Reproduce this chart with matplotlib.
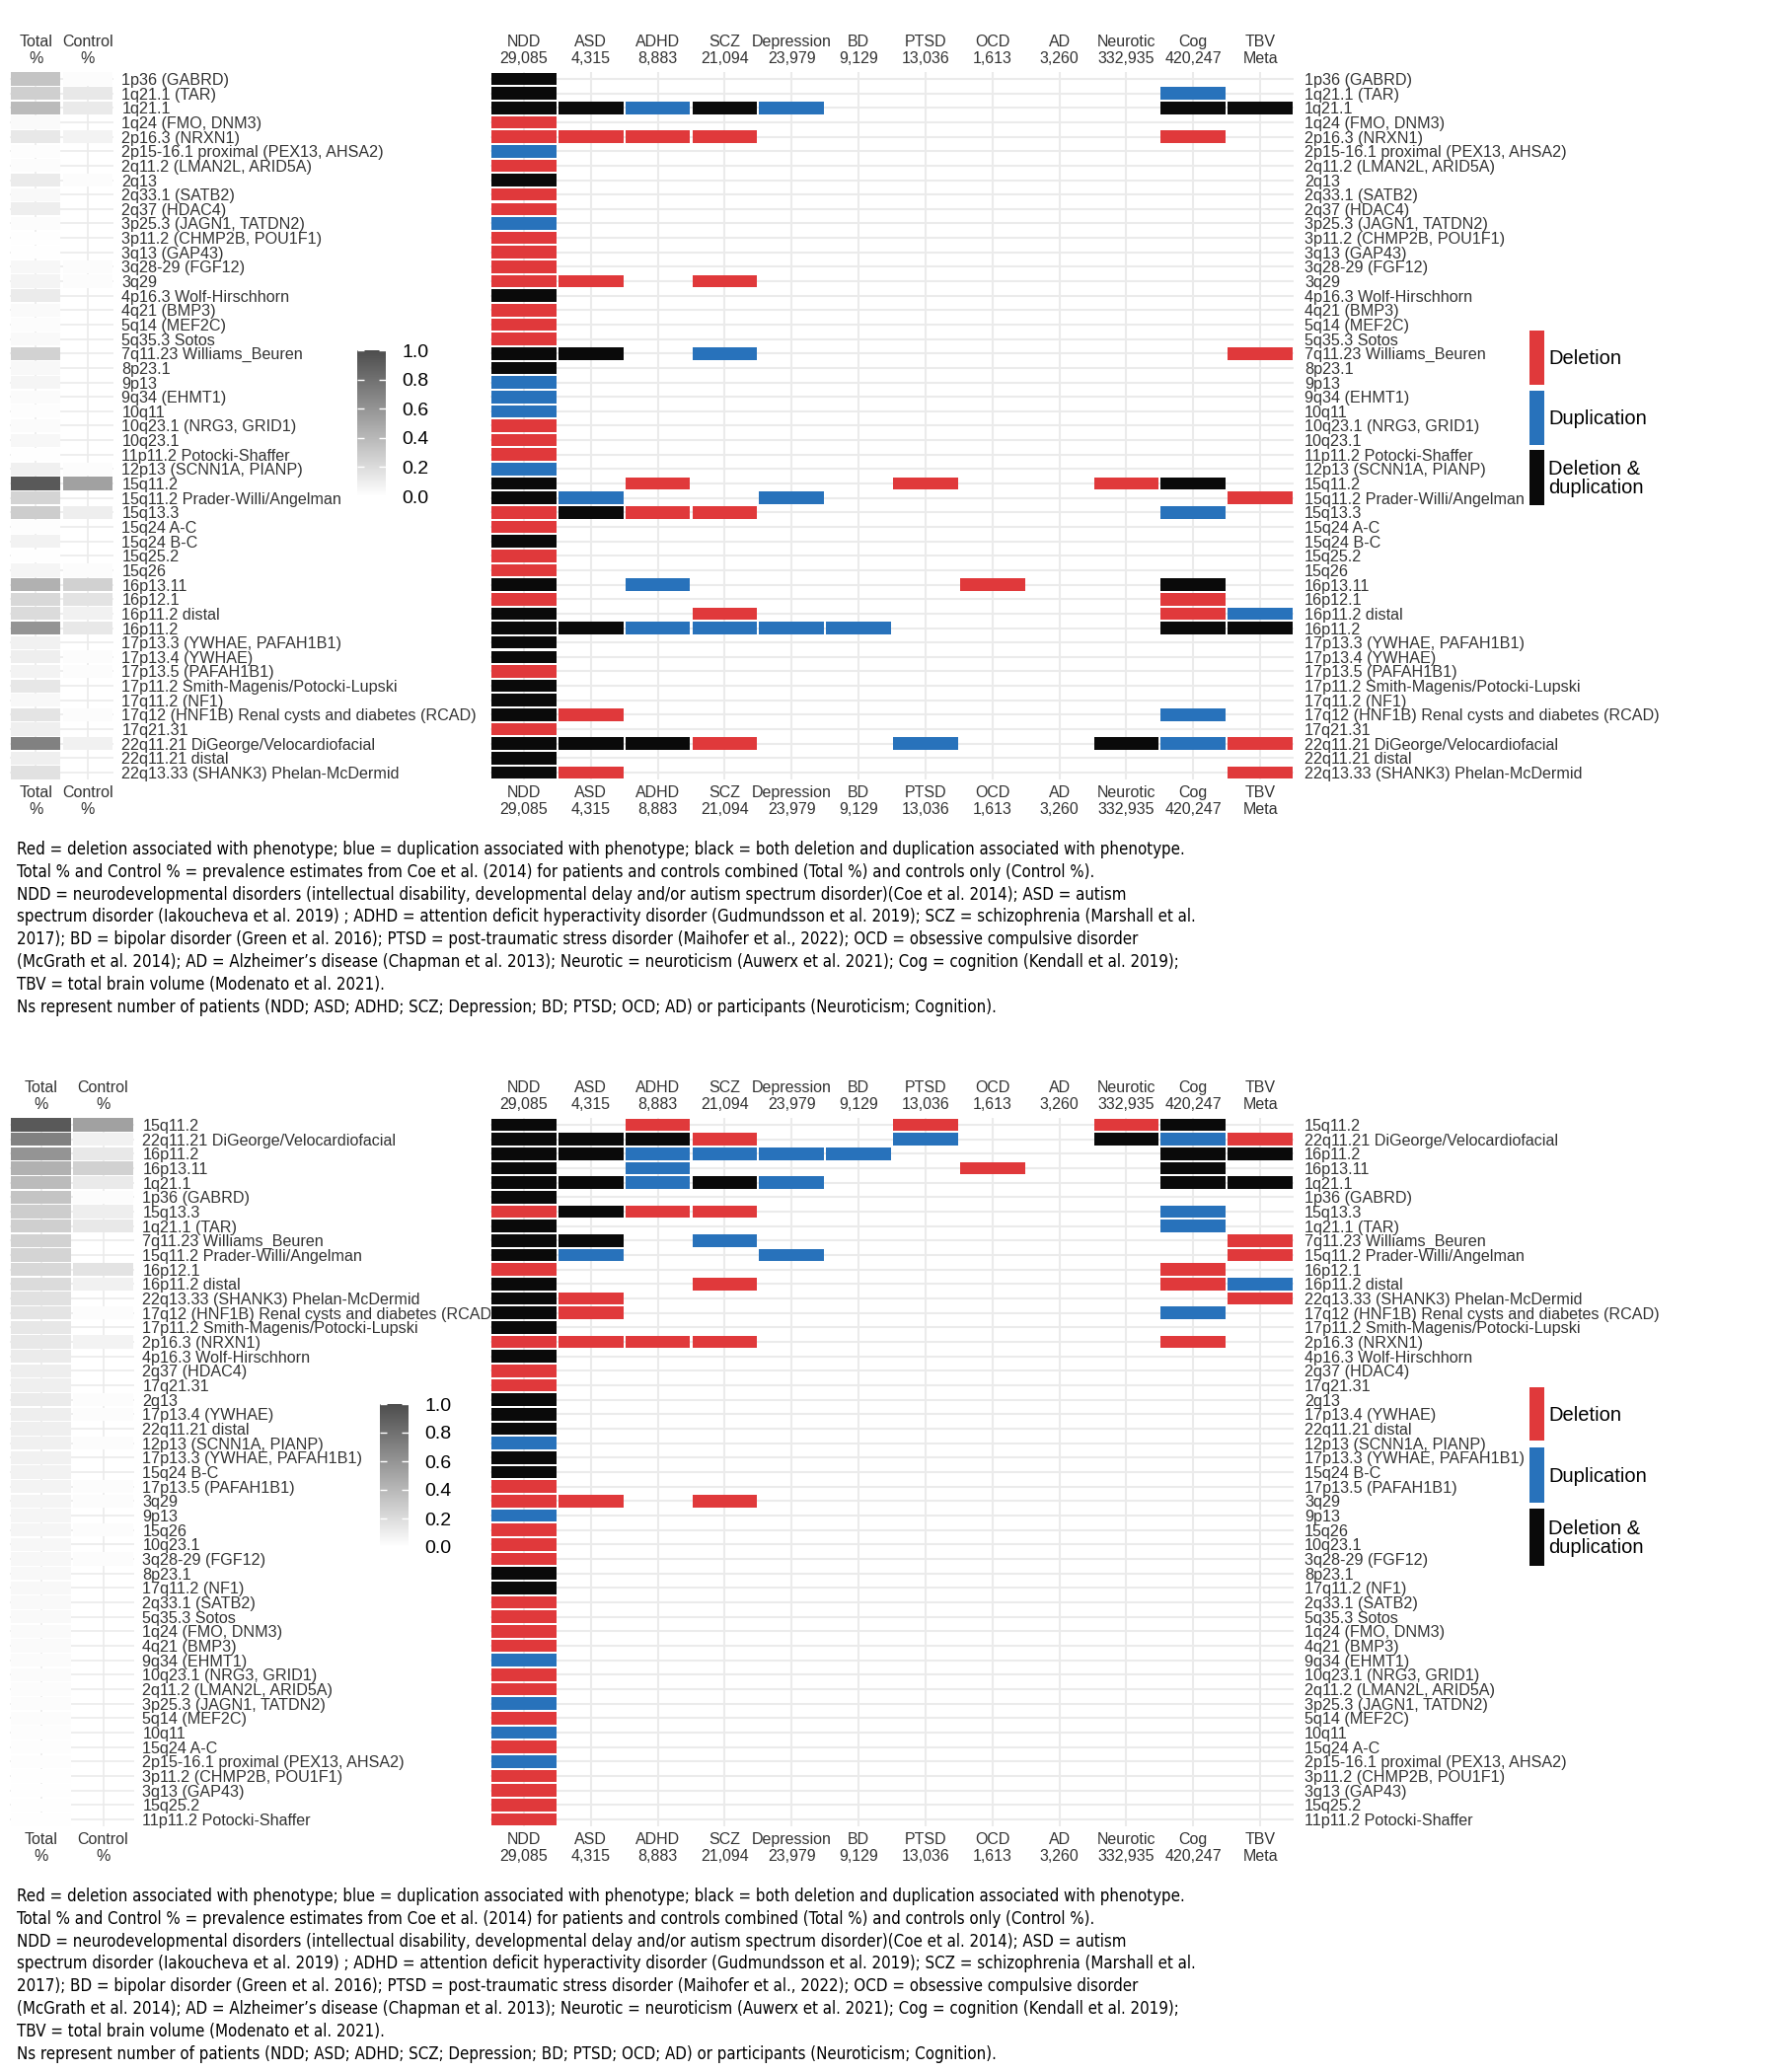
import numpy as np
import matplotlib.pyplot as plt
from matplotlib.colors import LinearSegmentedColormap, Normalize
from matplotlib.cm import ScalarMappable
from matplotlib.font_manager import FontProperties, findfont

## data

cnvs = ['1p36 (GABRD)', '1q21.1 (TAR)', '1q21.1', '1q24 (FMO, DNM3)', '2p16.3 (NRXN1)',
        '2p15-16.1 proximal (PEX13, AHSA2)', '2q11.2 (LMAN2L, ARID5A)', '2q13', '2q33.1 (SATB2)',
        '2q37 (HDAC4)', '3p25.3 (JAGN1, TATDN2)', '3p11.2 (CHMP2B, POU1F1)', '3q13 (GAP43)',
        '3q28-29 (FGF12)', '3q29', '4p16.3 Wolf-Hirschhorn', '4q21 (BMP3)', '5q14 (MEF2C)',
        '5q35.3 Sotos', '7q11.23 Williams_Beuren', '8p23.1', '9p13', '9q34 (EHMT1)', '10q11',
        '10q23.1 (NRG3, GRID1)', '10q23.1', '11p11.2 Potocki-Shaffer', '12p13 (SCNN1A, PIANP)',
        '15q11.2', '15q11.2 Prader-Willi/Angelman', '15q13.3', '15q24 A-C', '15q24 B-C',
        '15q25.2', '15q26', '16p13.11', '16p12.1', '16p11.2 distal', '16p11.2',
        '17p13.3 (YWHAE, PAFAH1B1)', '17p13.4 (YWHAE)', '17p13.5 (PAFAH1B1)',
        '17p11.2 Smith-Magenis/Potocki-Lupski', '17q11.2 (NF1)',
        '17q12 (HNF1B) Renal cysts and diabetes (RCAD)', '17q21.31',
        '22q11.21 DiGeorge/Velocardiofacial', '22q11.21 distal',
        '22q13.33 (SHANK3) Phelan-McDermid']

# prevalence (colour scale 0-1), nan = no tile
total_pct = [0.33, 0.27, 0.38, 0.03, 0.13, 0.015, 0.02, 0.11, 0.035, 0.10, 0.02, 0.01, 0.01,
             0.045, 0.065, 0.11, 0.03, 0.02, 0.035, 0.25, 0.04, 0.06, 0.025, 0.015, 0.025,
             0.05, 0.01, 0.085, 0.93, 0.24, 0.28, 0.015, 0.075, 0.01, 0.055, 0.44, 0.22,
             0.20, 0.60, 0.08, 0.10, 0.07, 0.14, 0.04, 0.15, 0.09, 0.71, 0.09, 0.17]
control_pct = [0.02, 0.13, 0.12, np.nan, 0.07, np.nan, np.nan, 0.02, np.nan, np.nan, np.nan,
               np.nan, np.nan, 0.02, 0.02, np.nan, np.nan, np.nan, np.nan, np.nan, np.nan,
               np.nan, np.nan, np.nan, np.nan, np.nan, np.nan, 0.02, 0.53, np.nan, 0.10,
               np.nan, np.nan, np.nan, 0.02, 0.26, 0.16, 0.08, 0.13, np.nan, 0.02, 0.02,
               np.nan, np.nan, 0.02, np.nan, 0.08, np.nan, np.nan]

phenotypes = ['NDD', 'ASD', 'ADHD', 'SCZ', 'Depression', 'BD', 'PTSD', 'OCD', 'AD',
              'Neurotic', 'Cog', 'TBV']
sample_n = ['29,085', '4,315', '8,883', '21,094', '23,979', '9,129', '13,036', '1,613',
            '3,260', '332,935', '420,247', 'Meta']

# one code per phenotype: D deletion, U duplication, B both, . none
assoc = ['B...........', 'B.........U.', 'BBUBU.....BB', 'D...........', 'DDDD......D.',
         'U...........', 'D...........', 'B...........', 'D...........', 'D...........',
         'U...........', 'D...........', 'D...........', 'D...........', 'DD.D........',
         'B...........', 'D...........', 'D...........', 'D...........', 'BB.U.......D',
         'B...........', 'U...........', 'U...........', 'U...........', 'D...........',
         'D...........', 'D...........', 'U...........', 'B.D...D..DB.', 'BU..U......D',
         'DBDD......U.', 'D...........', 'B...........', 'D...........', 'D...........',
         'B.U....D..B.', 'D.........D.', 'B..D......DU', 'BBUUUU....BB', 'B...........',
         'B...........', 'D...........', 'B...........', 'B...........', 'BD........U.',
         'D...........', 'BBBD..U..BUD', 'B...........', 'BD.........D']

# second panel: ordered by total prevalence
order_total = ['15q11.2', '22q11.21 DiGeorge/Velocardiofacial', '16p11.2', '16p13.11', '1q21.1',
               '1p36 (GABRD)', '15q13.3', '1q21.1 (TAR)', '7q11.23 Williams_Beuren',
               '15q11.2 Prader-Willi/Angelman', '16p12.1', '16p11.2 distal',
               '22q13.33 (SHANK3) Phelan-McDermid', '17q12 (HNF1B) Renal cysts and diabetes (RCAD)',
               '17p11.2 Smith-Magenis/Potocki-Lupski', '2p16.3 (NRXN1)', '4p16.3 Wolf-Hirschhorn',
               '2q37 (HDAC4)', '17q21.31', '2q13', '17p13.4 (YWHAE)', '22q11.21 distal',
               '12p13 (SCNN1A, PIANP)', '17p13.3 (YWHAE, PAFAH1B1)', '15q24 B-C',
               '17p13.5 (PAFAH1B1)', '3q29', '9p13', '15q26', '10q23.1', '3q28-29 (FGF12)',
               '8p23.1', '17q11.2 (NF1)', '2q33.1 (SATB2)', '5q35.3 Sotos', '1q24 (FMO, DNM3)',
               '4q21 (BMP3)', '9q34 (EHMT1)', '10q23.1 (NRG3, GRID1)', '2q11.2 (LMAN2L, ARID5A)',
               '3p25.3 (JAGN1, TATDN2)', '5q14 (MEF2C)', '10q11', '15q24 A-C',
               '2p15-16.1 proximal (PEX13, AHSA2)', '3p11.2 (CHMP2B, POU1F1)', '3q13 (GAP43)',
               '15q25.2', '11p11.2 Potocki-Shaffer']

legend_labels = ['Deletion', 'Duplication', 'Deletion &\nduplication']

caption = ["Red = deletion associated with phenotype; blue = duplication associated with phenotype; black = both deletion and duplication associated with phenotype.",
           "Total % and Control % = prevalence estimates from Coe et al. (2014) for patients and controls combined (Total %) and controls only (Control %).",
           "NDD = neurodevelopmental disorders (intellectual disability, developmental delay and/or autism spectrum disorder)(Coe et al. 2014); ASD = autism",
           "spectrum disorder (Iakoucheva et al. 2019) ; ADHD = attention deficit hyperactivity disorder (Gudmundsson et al. 2019); SCZ = schizophrenia (Marshall et al.",
           "2017); BD = bipolar disorder (Green et al. 2016); PTSD = post-traumatic stress disorder (Maihofer et al., 2022); OCD = obsessive compulsive disorder",
           "(McGrath et al. 2014); AD = Alzheimer\u2019s disease (Chapman et al. 2013); Neurotic = neuroticism (Auwerx et al. 2021); Cog = cognition (Kendall et al. 2019);",
           "TBV = total brain volume (Modenato et al. 2021).",
           "Ns represent number of patients (NDD; ASD; ADHD; SCZ; Depression; BD; PTSD; OCD; AD) or participants (Neuroticism; Cognition)."]

##

def find_prop(family, stretch='normal'):
    prop = FontProperties(family=family, stretch=stretch)
    try:
        path = findfont(prop, fallback_to_default=False)
    except Exception:
        return None
    if stretch != 'normal' and 'ondensed' not in path and 'arrow' not in path:
        return None
    return prop

lab_font = 'Liberation Sans' if find_prop('Liberation Sans') else 'DejaVu Sans'
cap_prop = (find_prop('Liberation Sans Narrow') or find_prop('Arial Narrow')
            or find_prop('DejaVu Sans', 'condensed') or FontProperties(family=lab_font))
plt.rcParams['font.family'] = lab_font

W, H = 1813, 2100
fig = plt.figure(figsize=(W / 100, H / 100), dpi=100)

cmap_prev = LinearSegmentedColormap.from_list('prev', ['#ffffff', '#4d4d4d'])
col_assoc = {'D': '#e0393b', 'U': '#2872bb', 'B': '#0a0a0a'}
grid_col = '#ebebeb'
txt_col = '#333333'
fs_lab = 11.6


def px_box(x0, y0, x1, y1):
    return [x0 / W, 1 - y1 / H, (x1 - x0) / W, (y1 - y0) / H]


def draw_panel(order, row_top, row_bot, heat_x, cb_y, cb_x, leg_y, cap_y):
    n = len(order)
    pitch = (row_bot - row_top) / (n - 1)
    y0, y1 = row_top - pitch / 2, row_bot + pitch / 2
    idx = [cnvs.index(c) for c in order]
    rows = np.arange(n)

    # prevalence tiles
    axh = fig.add_axes(px_box(heat_x[0], y0, heat_x[1], y1))
    for j, vals in enumerate([total_pct, control_pct]):
        v = np.array([vals[k] for k in idx])
        ok = ~np.isnan(v)
        axh.barh(rows[ok], 0.96, left=j - 0.48, height=0.9, color=cmap_prev(v[ok]), lw=0)
    axh.set_xlim(-0.5, 1.5)
    axh.set_ylim(n - 0.5, -0.5)
    axh.set_xticks([0, 1], ['Total\n%', 'Control\n%'])
    axh.set_yticks(rows, order)
    axh.yaxis.tick_right()
    axh.tick_params(axis='y', length=0, pad=6, labelsize=fs_lab, labelcolor=txt_col)
    axh.tick_params(axis='x', length=0, pad=4, labelsize=11.5, labelcolor=txt_col,
                    labeltop=True, labelbottom=True)
    for lab in axh.get_xticklabels():
        lab.set_linespacing(1.2)
    axh.grid(True, color=grid_col, lw=1.2)
    axh.set_axisbelow(True)
    for s in axh.spines.values():
        s.set_visible(False)

    # association tiles
    axm = fig.add_axes(px_box(497, y0, 1311, y1))
    for j in range(len(phenotypes)):
        codes = [assoc[k][j] for k in idx]
        sel = [i for i, c in enumerate(codes) if c != '.']
        axm.barh(sel, 0.97, left=j - 0.485, height=0.86,
                 color=[col_assoc[codes[i]] for i in sel], lw=0)
    axm.set_xlim(-0.5, len(phenotypes) - 0.5)
    axm.set_ylim(n - 0.5, -0.5)
    axm.set_xticks(range(len(phenotypes)), [p + '\n' + s for p, s in zip(phenotypes, sample_n)])
    axm.set_yticks(rows, order)
    axm.yaxis.tick_right()
    axm.tick_params(axis='y', length=0, pad=8, labelsize=fs_lab, labelcolor=txt_col)
    axm.tick_params(axis='x', length=0, pad=4, labelsize=11.5, labelcolor=txt_col,
                    labeltop=True, labelbottom=True)
    for lab in axm.get_xticklabels():
        lab.set_linespacing(1.2)
    axm.grid(True, color=grid_col, lw=1.5)
    axm.set_axisbelow(True)
    for s in axm.spines.values():
        s.set_visible(False)

    # colour bar
    cax = fig.add_axes(px_box(cb_x[0], cb_y[0], cb_x[1], cb_y[1]))
    cb = fig.colorbar(ScalarMappable(Normalize(0, 1), cmap_prev), cax=cax,
                      ticks=[0, 0.2, 0.4, 0.6, 0.8, 1.0])
    cb.set_ticklabels(['0.0', '0.2', '0.4', '0.6', '0.8', '1.0'])
    cb.outline.set_visible(False)
    cax.tick_params(length=5, width=1, color='white', direction='in', labelsize=14,
                    pad=12, left=True, right=True)

    # legend
    axl = fig.add_axes(px_box(1545, leg_y[0][0], 1760, leg_y[-1][1]))
    axl.set_xlim(1545, 1760)
    axl.set_ylim(leg_y[-1][1], leg_y[0][0])
    for (ya, yb), key, lab in zip(leg_y, ['D', 'U', 'B'], legend_labels):
        axl.bar(1557.5, yb - ya, width=15, bottom=ya, color=col_assoc[key], lw=0)
        axl.text(1569, (ya + yb) / 2 + 1, lab, fontsize=14.5, va='center', ha='left',
                 color='black', linespacing=1.05)
    axl.axis('off')

    # caption
    for i, line in enumerate(caption):
        fig.text(17 / W, 1 - (cap_y + i * 22.8) / H, line, fontproperties=cap_prop,
                 fontsize=cap_fs, va='center', ha='left', color='black')


# caption font size fitted to the width of the first line
t = fig.text(0, 0, caption[0], fontproperties=cap_prop, fontsize=12)
fig.canvas.draw()
cap_fs = min(14.5, 12 * 1183 / t.get_window_extent().width)
t.remove()

draw_panel(cnvs, 80, 783, (10, 115), (355, 503), (362, 391),
           [(335, 390), (396, 451), (456, 512)], 861)
draw_panel(order_total, 1140, 1844, (10, 136), (1423, 1568), (385, 414),
           [(1406, 1460), (1467, 1523), (1529, 1587)], 1922)

fig.savefig('out.png', dpi=100, facecolor='white')
